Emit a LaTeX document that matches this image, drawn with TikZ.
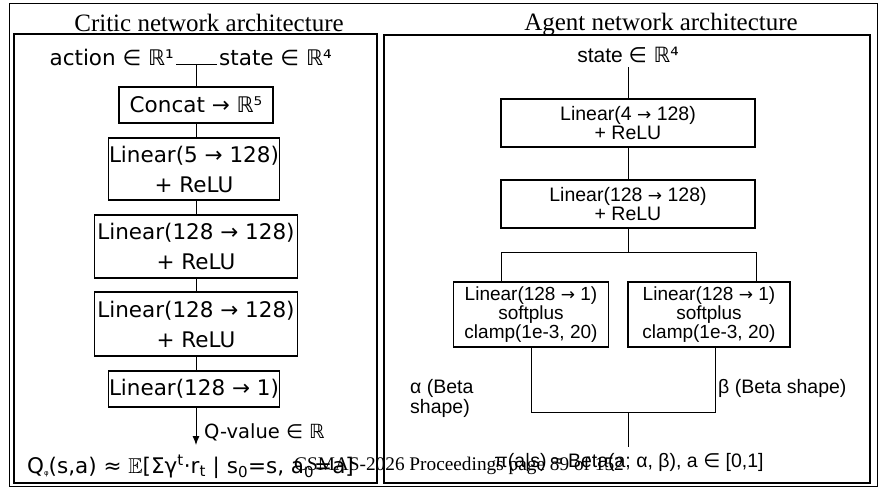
\documentclass[tikz,border=0pt]{standalone}
\usepackage{fontspec}
\usepackage{amssymb}
\usetikzlibrary{arrows.meta}
\setmainfont{Liberation Serif}
\newfontfamily\critfont{DejaVu Sans}
\newfontfamily\agtfont{Liberation Sans}
\newfontfamily\dvfont{DejaVu Sans}
\newcommand{\inR}{{\dvfont ∈ ℝ}}
\newcommand{\arr}{{\dvfont\fontsize{17}{17}\selectfont →}}
\begin{document}
\begin{tikzpicture}[x=1pt,y=-1pt,
  frame/.style={draw,line width=0.8pt},
  panel/.style={draw,line width=1.7pt},
  cbox/.style={draw,line width=1.2pt,inner sep=0pt,align=center,font=\critfont\fontsize{21.5}{30}\selectfont},
  abox/.style={draw,line width=1.1pt,inner sep=0pt,align=center,font=\agtfont\fontsize{19.5}{17}\selectfont},
  hbox/.style={draw,line width=1.1pt,inner sep=0pt,align=center,font=\agtfont\fontsize{19}{14.5}\selectfont},
  ctext/.style={inner sep=2pt,font=\critfont\fontsize{21.5}{26}\selectfont},
  atext/.style={inner sep=2pt,font=\agtfont\fontsize{19.5}{20}\selectfont},
  ttl/.style={inner sep=0pt,font=\fontsize{25}{28}\selectfont},
  conn/.style={line width=0.9pt}]
\useasboundingbox (0,0) rectangle (881,487);
\fill[white] (0,0) rectangle (881,487);
% frames
\draw[frame] (9,3) rectangle (877,486);
\draw[panel] (14,34) rectangle (377,483);
\draw[panel] (384,35) rectangle (870,483);
% titles
\node[ttl,anchor=base] (t1) at (209,32) {Critic network architecture};
\node[ttl,anchor=base] (t2) at (661,31) {Agent network architecture};
% ---------- critic ----------
\node[ctext,anchor=base east] (act) at (176,66) {action ∈ ℝ¹};
\node[ctext,anchor=base west] (cst) at (217,66) {state ∈ ℝ⁴};
\coordinate (tj) at (196,64);
\node[cbox,minimum width=154pt,minimum height=36pt] (concat) at (196,105) {Concat → ℝ⁵};
\node[cbox,minimum width=171pt,minimum height=62pt] (l1) at (194,169) {Linear(5 → 128)\\+ ReLU};
\node[cbox,minimum width=203pt,minimum height=63pt] (l2) at (196,246.5) {Linear(128 → 128)\\+ ReLU};
\node[cbox,minimum width=203pt,minimum height=64pt] (l3) at (196,324) {Linear(128 → 128)\\+ ReLU};
\node[cbox,minimum width=171pt,minimum height=36pt] (l4) at (194,389) {Linear(128 → 1)};
\coordinate (qend) at (196,445);
\node[ctext,anchor=base west,font=\critfont\fontsize{19.5}{22}\selectfont] (qv) at (202,438) {Q-value ∈ ℝ};
\node[ctext,anchor=base west] (qf) at (25,473) {Q\raisebox{-2pt}{\fontsize{7}{7}\selectfont φ}(s,a) ≈ $\mathbb{E}$[Σγ\textsuperscript{t}·r\textsubscript{t} | s\textsubscript{0}=s, a\textsubscript{0}=a]};
\draw[conn] (act.east |- tj) -- (cst.west |- tj);
\draw[conn] (tj) -- (concat.north);
\draw[conn] (concat.south) -- (concat.south |- l1.north);
\draw[conn] (concat.south |- l1.south) -- (concat.south |- l2.north);
\draw[conn] (l2.south) -- (l3.north);
\draw[conn] (l3.south) -- (l3.south |- l4.north);
\draw[conn,-{Latex[length=9pt,width=7pt]}] (l3.south |- l4.south) -- (qend);
% ---------- agent ----------
\node[atext,anchor=base,inner sep=4pt,font=\agtfont\fontsize{21}{22}\selectfont] (ast) at (628,63) {state \inR{\dvfont ⁴}};
\node[abox,minimum width=254pt,minimum height=48pt] (a1) at (628,123) {Linear(4 \arr{} 128)\\+ ReLU};
\node[abox,minimum width=254pt,minimum height=48pt] (a2) at (628,204) {Linear(128 \arr{} 128)\\+ ReLU};
\coordinate (sp) at (628,252);
\coordinate (bl) at (501,252);
\coordinate (br) at (756,252);
\node[hbox,minimum width=155pt,minimum height=65pt] (hl) at (531,314.5) {Linear(128 \arr{} 1)\\softplus\\clamp(1e-3, 20)};
\node[hbox,minimum width=162pt,minimum height=65pt] (hr) at (709,314.5) {Linear(128 \arr{} 1)\\softplus\\clamp(1e-3, 20)};
\coordinate (ml) at (531,412);
\coordinate (mr) at (715,412);
\coordinate (mm) at (628,412);
\coordinate (mend) at (628,447);
\node[atext,anchor=west,align=left] (alab) at (408,398) {α (Beta\\shape)};
\node[atext,anchor=base west] (blab) at (716,393) {β (Beta shape)};
\node[atext,anchor=base] (pif) at (629,467) {π(a|s) ≈ Beta(a; α, β), a {\dvfont ∈} [0,1]};
\draw[conn] (ast.south) -- (a1.north);
\draw[conn] (a1.south) -- (a2.north);
\draw[conn] (a2.south) -- (sp);
\draw[conn] (bl) -- (br);
\draw[conn] (bl) -- (bl |- hl.north);
\draw[conn] (br) -- (br |- hr.north);
\draw[conn] (hl.south) -- (ml) -- (mr) -- (mr |- hr.south);
\draw[conn] (mm) -- (mend);
% footer overlay
\node[inner sep=0pt,anchor=base west,font=\fontsize{19.3}{22}\selectfont] (foot) at (294,470) {CSMAS-2026 Proceedings page 89 of 152};
\end{tikzpicture}
\end{document}
